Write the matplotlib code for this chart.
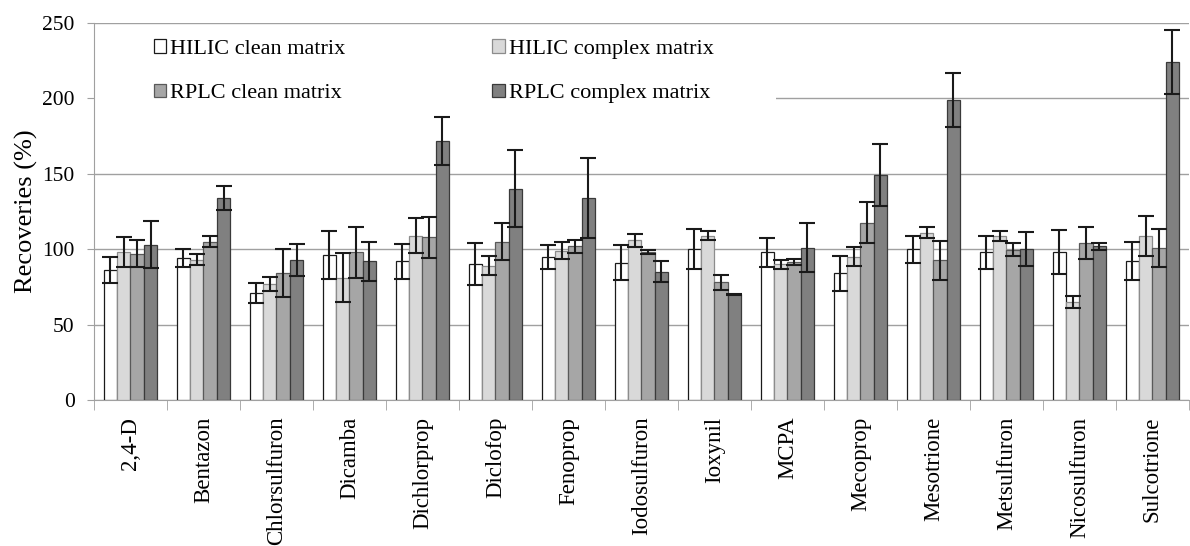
import matplotlib
matplotlib.use("Agg")
import matplotlib.pyplot as plt
from matplotlib.patches import Rectangle
import numpy as np

plt.rcParams["font.family"] = ["Liberation Serif", "DejaVu Serif"]

compounds = ["2,4-D", "Bentazon", "Chlorsulfuron", "Dicamba", "Dichlorprop",
             "Diclofop", "Fenoprop", "Iodosulfuron", "Ioxynil", "MCPA",
             "Mecoprop", "Mesotrione", "Metsulfuron", "Nicosulfuron", "Sulcotrione"]

series = ["HILIC clean matrix", "HILIC complex matrix",
          "RPLC clean matrix", "RPLC complex matrix"]

hilic_clean = [86, 94, 71, 96, 92, 90, 95, 91, 100, 98, 84, 100, 98, 98, 92]
hilic_clean_err = [8.6, 6, 6.4, 16, 11.5, 14, 8, 11.7, 13.2, 9.7, 11.7, 9, 10.8, 14.6, 12.5]
hilic_complex = [98, 93, 77, 81, 109, 89, 99, 106, 109, 90, 95, 111, 109, 65, 109]
hilic_complex_err = [10, 3.7, 4.4, 16.3, 11.7, 6.2, 5.8, 4.4, 3, 3, 6.4, 3.7, 3.3, 4, 13.2]
rplc_clean = [97, 105, 84, 98, 108, 105, 102, 98, 78, 91.5, 117.5, 92.6, 99.6, 104, 101]
rplc_clean_err = [9, 3.5, 16, 16.8, 13.6, 12.3, 4.4, 1.3, 4.9, 2, 13.7, 12.8, 4.4, 10.7, 12.6]
rplc_complex = [103, 134, 93, 92, 172, 140, 134, 85, 70, 101, 149, 199, 100, 102, 224]
rplc_complex_err = [15.6, 8, 10.6, 12.8, 15.9, 25.5, 26.7, 7, 0.5, 16.3, 20.5, 18, 11.3, 2.2, 21.4]

values = [hilic_clean, hilic_complex, rplc_clean, rplc_complex]
errors = [hilic_clean_err, hilic_complex_err, rplc_clean_err, rplc_complex_err]
fills = ["#ffffff", "#d9d9d9", "#a6a6a6", "#808080"]
edges = ["#1a1a1a", "#8c8c8c", "#595959", "#3a3a3a"]

W, H = 1190, 546
fig = plt.figure(figsize=(W / 100, H / 100), dpi=100)
ax = fig.add_axes([94 / W, 1 - 400 / H, 1 - 94 / W - 0.001, 377 / H])

x = np.arange(len(compounds))
bw = 0.183
bars = []
for i, (v, e) in enumerate(zip(values, errors)):
    b = ax.bar(x + (i - 1.5) * bw, v, bw, color=fills[i], edgecolor=edges[i],
               linewidth=0.9, label=series[i], zorder=3)
    ax.errorbar(x + (i - 1.5) * bw, v, yerr=e, fmt="none", ecolor="#1a1a1a",
                elinewidth=1.5, capsize=6, capthick=1.5, zorder=4)
    bars.append(b)

ax.set_xlim(-0.5, len(compounds) - 0.5)
ax.set_ylim(0, 250)
ax.set_yticks([0, 50, 100, 150, 200, 250])
ax.yaxis.grid(True, color="#a0a0a0", linewidth=1, zorder=0)
ax.set_axisbelow(True)

ax.set_xticks(x)
ax.set_xticklabels(compounds, rotation=90, fontsize=16.5, va="top")
ax.set_xticks(np.arange(len(compounds) + 1) - 0.5, minor=True)
ax.tick_params(axis="x", which="major", length=0, pad=12)
ax.tick_params(axis="x", which="minor", length=7, color="#a0a0a0")
ax.tick_params(axis="y", length=5, color="#a0a0a0", labelsize=15.5, pad=9)

for s in ["top", "right"]:
    ax.spines[s].set_visible(False)
for s in ["left", "bottom"]:
    ax.spines[s].set_color("#a0a0a0")

ax.set_ylabel("Recoveries (%)", fontsize=19, labelpad=3)

# white legend area hides the 200 gridline on the left part
ax.add_patch(Rectangle((0.0, 0.77), 0.623, 0.22, transform=ax.transAxes,
                       facecolor="white", edgecolor="none", zorder=1))

handles = [bars[0], bars[2], bars[1], bars[3]]
labels = [series[0], series[2], series[1], series[3]]
leg = ax.legend(handles, labels, ncol=2, loc="upper left",
                bbox_to_anchor=(0.0465, 0.98), fontsize=16, frameon=False,
                handlelength=0.57, handleheight=0.57, handletextpad=0.18,
                labelspacing=1.1, columnspacing=6.6, borderpad=0.4,
                borderaxespad=0.0)
leg.set_zorder(5)

fig.savefig("out.png", dpi=100)
